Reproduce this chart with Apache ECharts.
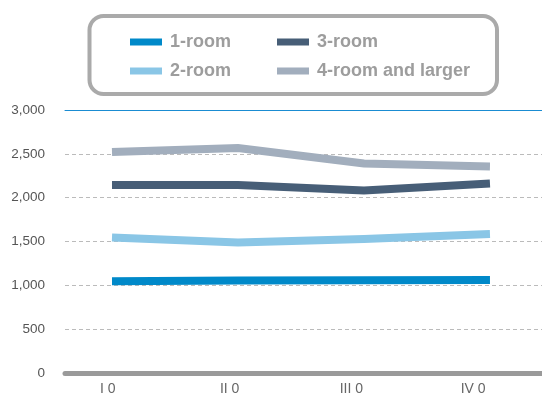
<!DOCTYPE html>
<html>
<head>
<meta charset="utf-8">
<style>
  html, body { margin: 0; padding: 0; background: #fff; }
  #chart { width: 542px; height: 397px; }
</style>
<script src="https://cdn.jsdelivr.net/npm/echarts@6/dist/echarts.min.js"></script>
</head>
<body>
<div id="chart"></div>
<script>
// Quarterly averages by apartment size
const quarters = ['I 0', 'II 0', 'III 0', 'IV 0'];
const oneRoom = [1048, 1054, 1057, 1060];
const twoRoom = [1546, 1489, 1528, 1585];
const threeRoom = [2144, 2144, 2082, 2161];
const fourRoom = [2520, 2566, 2390, 2355];
const yTicks = { min: 0, max: 3000, step: 500 };

const seriesDefs = [
  { name: '1-room', values: oneRoom, color: '#0089c9' },
  { name: '2-room', values: twoRoom, color: '#8ac6e6' },
  { name: '3-room', values: threeRoom, color: '#475e77' },
  { name: '4-room and larger', values: fourRoom, color: '#a2aebd' }
];

const labelFont = '"Liberation Sans", Arial, sans-serif';
const legendText = {
  color: '#9d9d9d',
  fontFamily: labelFont,
  fontWeight: 'bold',
  fontSize: 18,
  padding: [0, 0, 0, 3]
};

const chart = echarts.init(document.getElementById('chart'), null, { renderer: 'canvas' });

// Quarter positions on a numeric axis so the frame can extend past the first/last quarter
const xRange = { min: -0.373, max: 3.413 };

chart.setOption({
  animation: false,
  backgroundColor: '#ffffff',
  grid: [
    { left: 65, right: 0, top: 110, bottom: 24 },
    { left: 47, right: 8, top: 110, bottom: 24 }
  ],
  graphic: [{
    type: 'rect',
    shape: { x: 89.5, y: 16, width: 407.5, height: 78, r: 14 },
    style: { fill: 'none', stroke: '#aaaaaa', lineWidth: 4 },
    silent: true
  }],
  legend: [
    {
      data: ['1-room', '3-room'],
      left: 130, top: 33, padding: 0,
      icon: 'rect', itemWidth: 32, itemHeight: 7, itemGap: 46,
      textStyle: legendText
    },
    {
      data: ['2-room', '4-room and larger'],
      left: 130, top: 62, padding: 0,
      icon: 'rect', itemWidth: 32, itemHeight: 7, itemGap: 46,
      textStyle: legendText
    }
  ],
  xAxis: [
    {
      type: 'value', gridIndex: 0, position: 'bottom',
      min: xRange.min, max: xRange.max,
      axisLine: { show: true, onZero: false, lineStyle: { color: '#9a9a9a', width: 5 } },
      axisTick: { show: false }, axisLabel: { show: false }, splitLine: { show: false }
    },
    {
      type: 'value', gridIndex: 0, position: 'top',
      min: xRange.min, max: xRange.max,
      axisLine: { show: true, onZero: false, lineStyle: { color: '#1a8cd2', width: 1 } },
      axisTick: { show: false }, axisLabel: { show: false }, splitLine: { show: false }
    },
    {
      type: 'category', gridIndex: 1, data: quarters, boundaryGap: true,
      axisLine: { show: false }, axisTick: { show: false }, splitLine: { show: false },
      axisLabel: { color: '#666666', fontFamily: labelFont, fontSize: 14, margin: 9 }
    }
  ],
  yAxis: [
    {
      type: 'value', gridIndex: 0,
      min: yTicks.min, max: yTicks.max, interval: yTicks.step,
      axisLine: { show: false }, axisTick: { show: false },
      axisLabel: {
        color: '#555555', fontFamily: labelFont, fontSize: 13.5, margin: 20,
        formatter: v => v.toLocaleString('en-US')
      },
      splitLine: { show: true, lineStyle: { color: '#bbbbbb', type: [4, 3], width: 1 } }
    },
    {
      type: 'value', gridIndex: 1, min: yTicks.min, max: yTicks.max,
      show: false
    }
  ],
  series: seriesDefs.map(s => ({
    name: s.name,
    type: 'line',
    xAxisIndex: 0,
    yAxisIndex: 0,
    data: s.values.map((v, i) => [i, v]),
    symbol: 'none',
    color: s.color,
    itemStyle: { color: s.color },
    lineStyle: { color: s.color, width: 8, cap: 'butt', join: 'miter' }
  }))
});
</script>
</body>
</html>
